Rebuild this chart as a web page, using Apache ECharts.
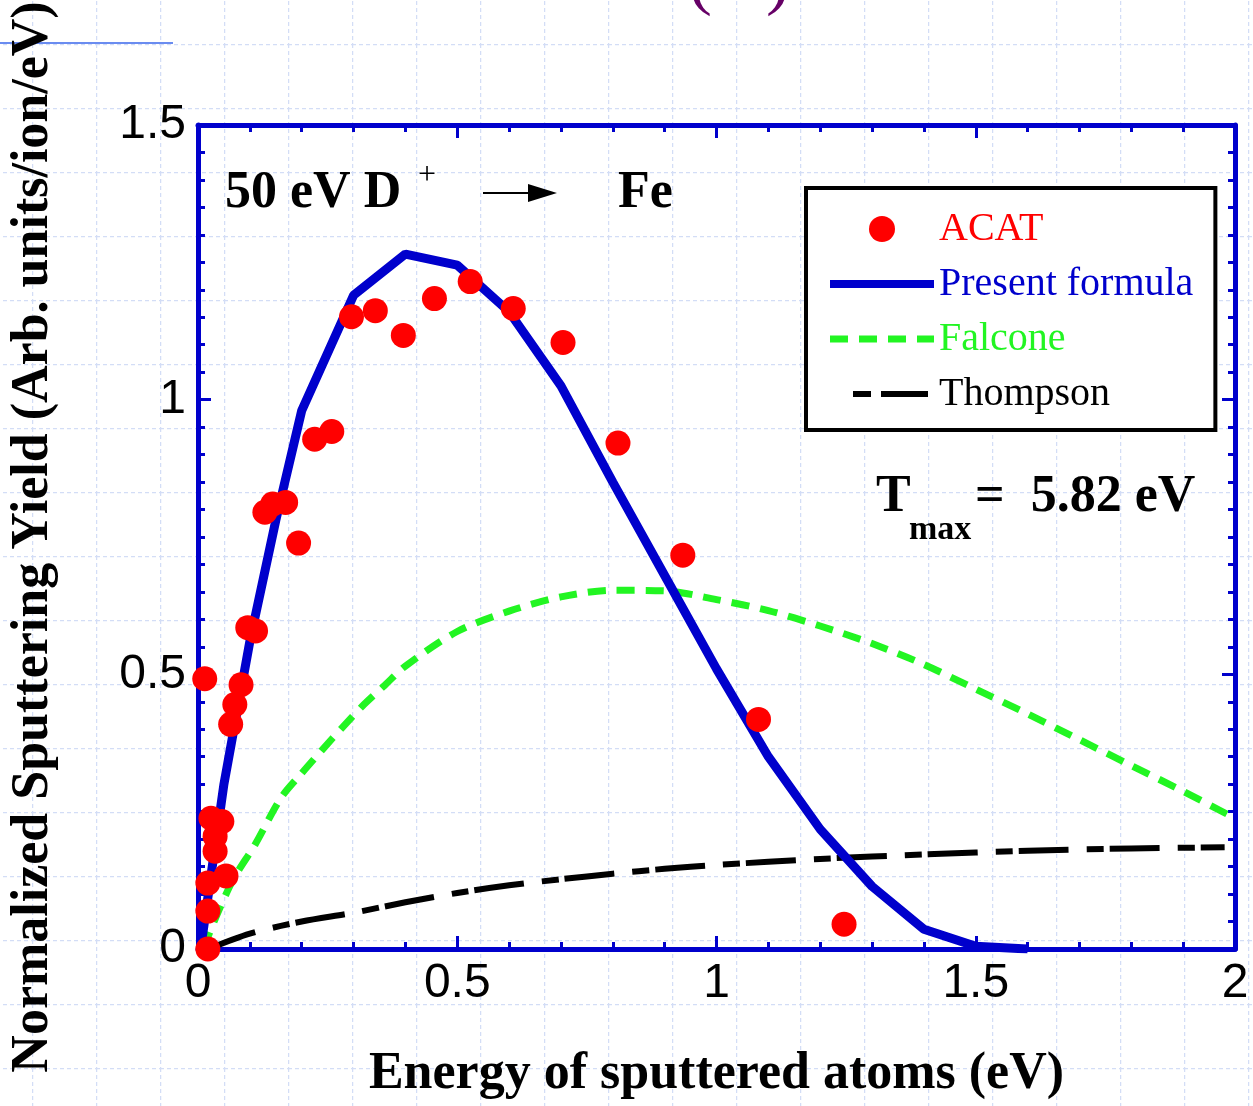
<!DOCTYPE html>
<html>
<head>
<meta charset="utf-8">
<script src="https://cdn.jsdelivr.net/npm/echarts@6.0.0/dist/echarts.min.js"></script>
<style>
  html, body { margin: 0; padding: 0; }
  body {
    width: 1253px; height: 1106px; overflow: hidden;
    background-color: #fff;
    background-image: url("data:image/svg+xml,%3Csvg xmlns='http://www.w3.org/2000/svg' width='64' height='64'%3E%3Cpath d='M0.5 0V64M0 0.5H64' stroke='%23d3ddf6' stroke-width='1.5' stroke-dasharray='4 3' fill='none'/%3E%3C/svg%3E");
    background-position: 32px 44px;
  }
  #chart { width: 1253px; height: 1106px; }
</style>
</head>
<body>
<div id="chart"></div>
<script>
// ACAT simulation points
const acatX = [0.525, 0.456, 0.296, 0.342, 0.396, 0.608, 0.704, 0.810, 0.935, 1.081, 1.246,
  0.225, 0.258, 0.129, 0.144, 0.169, 0.194, 0.096, 0.111, 0.013, 0.083, 0.071, 0.063,
  0.025, 0.046, 0.033, 0.033, 0.019, 0.054, 0.019, 0.019]
const acatY = [1.215, 1.184, 1.151, 1.162, 1.117, 1.166, 1.104, 0.921, 0.717, 0.418, 0.045,
  0.928, 0.942, 0.795, 0.810, 0.813, 0.739, 0.585, 0.579, 0.492, 0.481, 0.445, 0.409,
  0.238, 0.232, 0.205, 0.178, 0.120, 0.133, 0.069, 0.000]

// present formula
const formulaX = [0.005, 0.05, 0.1, 0.15, 0.2, 0.3, 0.4, 0.5, 0.6, 0.7, 0.8, 0.9, 1.0, 1.1, 1.2, 1.3, 1.4, 1.5, 1.6]
const formulaY = [0.0, 0.30, 0.56, 0.78, 0.98, 1.19, 1.265, 1.245, 1.16, 1.025, 0.85, 0.68, 0.51, 0.35, 0.218, 0.114, 0.036, 0.005, 0.0]

// Falcone
const falconeX = [0.01, 0.04, 0.07, 0.11, 0.16, 0.2, 0.24, 0.28, 0.32, 0.36, 0.4, 0.5, 0.6, 0.7, 0.8, 0.9,
  1.0, 1.1, 1.2, 1.3, 1.4, 1.5, 1.6, 1.7, 1.8, 1.9, 2.0]
const falconeY = [0.0, 0.07, 0.13, 0.19, 0.275, 0.32, 0.363, 0.405, 0.445, 0.48, 0.515, 0.578, 0.615, 0.641, 0.653, 0.652,
  0.636, 0.616, 0.588, 0.556, 0.518, 0.473, 0.428, 0.381, 0.334, 0.287, 0.238]

// Thompson
const thompsonX = [0.02, 0.1, 0.2, 0.3, 0.4, 0.5, 0.6, 0.7, 0.8, 0.9, 1.0, 1.2, 1.4, 1.6, 1.8, 1.98]
const thompsonY = [0.0, 0.028, 0.05, 0.066, 0.085, 0.102, 0.116, 0.127, 0.137, 0.146, 0.153, 0.164, 0.172, 0.179, 0.183, 0.185]

const xTicks = [0, 0.5, 1, 1.5, 2]
const yTicks = [0, 0.5, 1, 1.5]

const zip = (xs, ys) => xs.map((x, i) => [x, ys[i]])

const BLUE = '#0000cc'
const RED = '#ff0000'
const GREEN = '#22f522'
const SERIF = '"Liberation Serif", "Times New Roman", serif'
const SANS = '"Liberation Sans", Arial, sans-serif'

const FALCONE_DASH = [18, 11]
const THOMPSON_DASH = [50, 18, 17, 6]

function axis (opts) {
  return Object.assign({
    type: 'value',
    axisLine: { show: true, onZero: false, lineStyle: { color: BLUE, width: 5 } },
    axisTick: { show: true, inside: true, length: 13, lineStyle: { color: BLUE, width: 3 } },
    minorTick: { show: true, length: 7, lineStyle: { color: BLUE, width: 3 } },
    splitLine: { show: false },
    minorSplitLine: { show: false }
  }, opts)
}

const chart = echarts.init(document.getElementById('chart'))

chart.setOption({
  animation: false,
  grid: { left: 196, right: 18, top: 125, bottom: 153 },
  xAxis: [
    axis({
      min: xTicks[0], max: xTicks[xTicks.length - 1], interval: 0.5, position: 'bottom',
      minorTick: { show: true, splitNumber: 5, length: 7, lineStyle: { color: BLUE, width: 3 } },
      axisLabel: { color: '#000', fontFamily: SANS, fontSize: 48, margin: 11,
        formatter: v => xTicks.includes(v) ? String(v) : '' },
      name: 'Energy of sputtered atoms (eV)',
      nameLocation: 'middle',
      nameGap: 100,
      nameTextStyle: { color: '#000', fontFamily: SERIF, fontWeight: 'bold', fontSize: 52 }
    }),
    axis({
      min: 0, max: 2, interval: 0.5, position: 'top',
      minorTick: { show: true, splitNumber: 5, length: 7, lineStyle: { color: BLUE, width: 3 } },
      axisLabel: { show: false }
    })
  ],
  yAxis: [
    axis({
      min: yTicks[0], max: yTicks[yTicks.length - 1], interval: 0.5, position: 'left',
      minorTick: { show: true, splitNumber: 10, length: 7, lineStyle: { color: BLUE, width: 3 } },
      axisLabel: { color: '#000', fontFamily: SANS, fontSize: 48, margin: 12,
        formatter: v => yTicks.includes(v) ? String(v) : '' },
      name: 'Normalized Sputtering Yield (Arb. units/ion/eV)',
      nameLocation: 'middle',
      nameGap: 138,
      nameTextStyle: { color: '#000', fontFamily: SERIF, fontWeight: 'bold', fontSize: 52 }
    }),
    axis({
      min: 0, max: 1.5, interval: 0.5, position: 'right',
      minorTick: { show: true, splitNumber: 10, length: 7, lineStyle: { color: BLUE, width: 3 } },
      axisLabel: { show: false }
    })
  ],
  legend: {
    orient: 'vertical',
    left: 806,
    top: 188,
    padding: [21, 22, 16, 20],
    itemGap: 15,
    itemWidth: 104,
    itemHeight: 26,
    borderColor: '#000',
    borderWidth: 4,
    borderRadius: 0,
    backgroundColor: '#fff',
    selectedMode: false,
    textStyle: { fontFamily: SERIF, fontSize: 40 },
    data: [
      { name: 'ACAT', textStyle: { color: RED } },
      { name: 'Present formula', textStyle: { color: BLUE },
        itemStyle: { opacity: 0 }, lineStyle: { width: 8, color: BLUE, type: 'solid' } },
      { name: 'Falcone', textStyle: { color: GREEN },
        itemStyle: { opacity: 0 }, lineStyle: { width: 7, color: GREEN, type: FALCONE_DASH } },
      { name: 'Thompson', textStyle: { color: '#000' },
        itemStyle: { opacity: 0 }, lineStyle: { width: 6, color: '#000', type: [18, 10, 47, 29], dashOffset: 81 } }
    ]
  },
  series: [
    {
      name: 'Present formula',
      type: 'line',
      data: zip(formulaX, formulaY),
      symbol: 'none',
      lineStyle: { color: BLUE, width: 9 },
      itemStyle: { color: BLUE },
      z: 3
    },
    {
      name: 'Falcone',
      type: 'line',
      data: zip(falconeX, falconeY),
      symbol: 'none',
      smooth: 0.3,
      lineStyle: { color: GREEN, width: 7, type: FALCONE_DASH },
      itemStyle: { color: GREEN },
      z: 2
    },
    {
      name: 'Thompson',
      type: 'line',
      data: zip(thompsonX, thompsonY),
      symbol: 'none',
      smooth: 0.3,
      lineStyle: { color: '#000', width: 6, type: THOMPSON_DASH },
      itemStyle: { color: '#000' },
      z: 2
    },
    {
      name: 'ACAT',
      type: 'scatter',
      data: zip(acatX, acatY),
      symbol: 'circle',
      symbolSize: 25,
      itemStyle: { color: RED, opacity: 1 },
      z: 5
    }
  ],
  graphic: [
    { type: 'line', shape: { x1: 0, y1: 43, x2: 173, y2: 43 }, style: { stroke: '#6a8cf0', lineWidth: 2 } },
    { type: 'text', x: 688, y: 18, style: { text: '(   )', fill: '#660066', fontFamily: SERIF, fontSize: 72, verticalAlign: 'bottom' } },
    { type: 'text', x: 225, y: 194, style: { text: '50 eV D', fill: '#000', fontFamily: SERIF, fontWeight: 'bold', fontSize: 52, verticalAlign: 'middle' } },
    { type: 'text', x: 418, y: 176, style: { text: '+', fill: '#000', fontFamily: SERIF, fontSize: 32, verticalAlign: 'middle' } },
    { type: 'line', shape: { x1: 483, y1: 193, x2: 535, y2: 193 }, style: { stroke: '#000', lineWidth: 2 } },
    { type: 'polygon', shape: { points: [[528, 184], [557, 193], [528, 202]] }, style: { fill: '#000' } },
    { type: 'text', x: 618, y: 194, style: { text: 'Fe', fill: '#000', fontFamily: SERIF, fontWeight: 'bold', fontSize: 52, verticalAlign: 'middle' } },
    { type: 'text', x: 876, y: 498, style: { text: 'T', fill: '#000', fontFamily: SERIF, fontWeight: 'bold', fontSize: 52, verticalAlign: 'middle' } },
    { type: 'text', x: 909, y: 530, style: { text: 'max', fill: '#000', fontFamily: SERIF, fontWeight: 'bold', fontSize: 34, verticalAlign: 'middle' } },
    { type: 'text', x: 975, y: 498, style: { text: '=  5.82 eV', fill: '#000', fontFamily: SERIF, fontWeight: 'bold', fontSize: 52, verticalAlign: 'middle' } }
  ]
})
</script>
</body>
</html>
